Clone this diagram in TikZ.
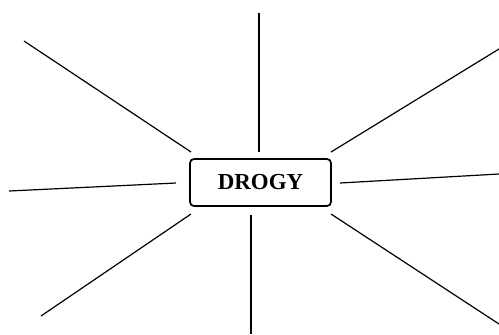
\documentclass[tikz,border=0pt]{standalone}
\usepackage{fontspec}
\setmainfont{Liberation Serif}
\begin{document}
\begin{tikzpicture}[x=1bp, y=-1bp, ray/.style={line width=1.2bp}]
\useasboundingbox (0,0) rectangle (499,334);
\node [draw, line width=1.7bp, rounded corners=4bp, minimum width=141bp, minimum height=47bp, font=\fontsize{23}{27}\selectfont\bfseries] (topic) at (260.5,182.5) {DROGY};
% ray ends
\coordinate (n1) at (259,152); \coordinate (n2) at (259,13);
\coordinate (nw1) at (191,152); \coordinate (nw2) at (24,41);
\coordinate (ne1) at (331,152); \coordinate (ne2) at (499,49);
\coordinate (w1) at (176,183); \coordinate (w2) at (9,191);
\coordinate (e1) at (340,183); \coordinate (e2) at (499,174);
\coordinate (sw1) at (191,214); \coordinate (sw2) at (41,316);
\coordinate (s1) at (251,215); \coordinate (s2) at (251,334);
\coordinate (se1) at (331,214); \coordinate (se2) at (499,324);
\foreach \r in {n,nw,ne,w,e,sw,s,se}
  \draw [ray] (\r1) -- (\r2);
\end{tikzpicture}
\end{document}
